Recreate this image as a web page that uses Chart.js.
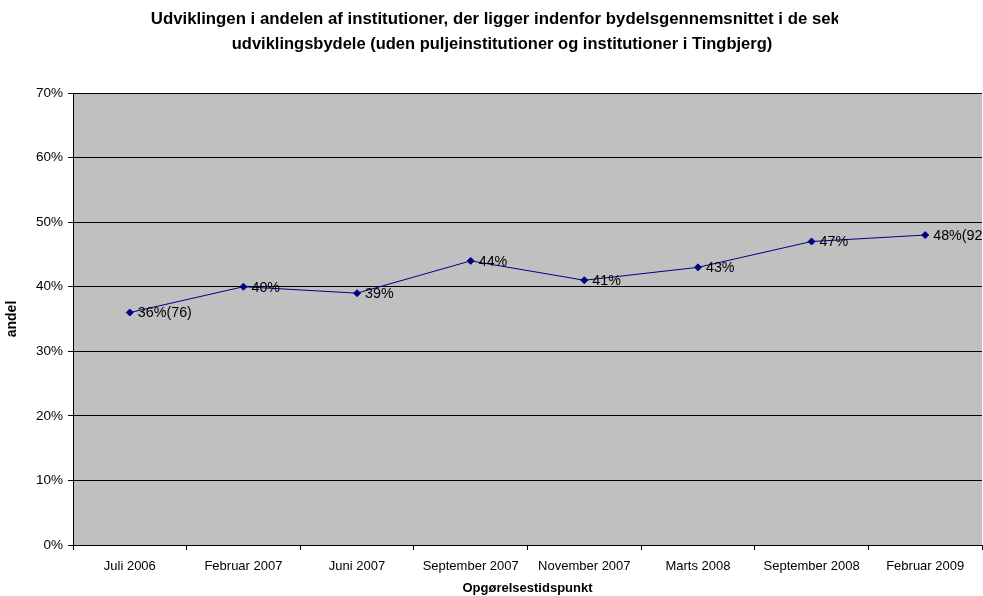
<!DOCTYPE html>
<html>
<head>
<meta charset="utf-8">
<script src="https://cdn.jsdelivr.net/npm/chart.js@4"></script>
<style>
	body { margin: 0; background: #fff; }
	#wrap { width: 983px; height: 596px; }
</style>
</head>
<body>
<div id="wrap"><canvas id="myChart" width="983" height="596"></canvas></div>
<script>
// Data
const categories = ['Juli 2006', 'Februar 2007', 'Juni 2007', 'September 2007', 'November 2007', 'Marts 2008', 'September 2008', 'Februar 2009'];
const andel = [36, 40, 39, 44, 41, 43, 47, 48];
const antal = [76, null, null, null, null, null, null, 92];
const yTicks = [0, 10, 20, 30, 40, 50, 60, 70];

const titleLines = [
	'Udviklingen i andelen af institutioner, der ligger indenfor bydelsgennemsnittet i de seks',
	'udviklingsbydele (uden puljeinstitutioner og institutioner i Tingbjerg)'
];

const FONT = 'Arial, "Liberation Sans", sans-serif';

// gray plot area + clipped title
const backdrop = {
	id: 'backdrop',
	beforeDraw(chart) {
		const { ctx, chartArea } = chart;
		ctx.save();
		ctx.fillStyle = '#C0C0C0';
		ctx.fillRect(chartArea.left, chartArea.top, chartArea.right - chartArea.left, chartArea.bottom - chartArea.top);
		ctx.restore();

		ctx.save();
		ctx.beginPath();
		ctx.rect(0, 0, 838, 60);
		ctx.clip();
		ctx.fillStyle = '#000';
		ctx.font = 'bold 16.8px ' + FONT;
		ctx.textAlign = 'center';
		ctx.textBaseline = 'middle';
		ctx.fillText(titleLines[0], 500, 19);
		ctx.font = 'bold 16.5px ' + FONT;
		ctx.fillText(titleLines[1], 502, 44);
		ctx.restore();
	}
};

// value labels right of each point
const valueLabels = {
	id: 'valueLabels',
	afterDatasetsDraw(chart) {
		const { ctx } = chart;
		const meta = chart.getDatasetMeta(0);
		ctx.save();
		ctx.fillStyle = '#000';
		ctx.font = '14.3px ' + FONT;
		ctx.textAlign = 'left';
		ctx.textBaseline = 'middle';
		meta.data.forEach((pt, i) => {
			let txt = andel[i] + '%';
			if (antal[i] != null) txt += '(' + antal[i] + ')';
			ctx.fillText(txt, pt.x + 8, pt.y + 1);
		});
		ctx.restore();
	}
};

const ctx = document.getElementById('myChart');

new Chart(ctx, {
	type: 'line',
	data: {
		labels: categories,
		datasets: [{
			label: 'andel',
			data: andel,
			borderColor: '#000080',
			backgroundColor: '#000080',
			borderWidth: 1,
			pointStyle: 'rectRot',
			pointRadius: 3.5,
			pointHoverRadius: 3.5,
			tension: 0,
			fill: false
		}]
	},
	options: {
		responsive: false,
		animation: false,
		layout: {
			autoPadding: false,
			padding: { top: 93, left: 4, right: 1, bottom: 0 }
		},
		plugins: {
			legend: { display: false },
			tooltip: { enabled: false },
			title: { display: false }
		},
		scales: {
			x: {
				offset: true,
				grid: {
					offset: true,
					drawOnChartArea: false,
					drawTicks: true,
					tickLength: 5,
					color: '#000'
				},
				border: { color: '#000', width: 1 },
				ticks: {
					color: '#000',
					font: { family: FONT, size: 13 },
					maxRotation: 0,
					autoSkip: false,
					padding: 9
				},
				title: {
					display: true,
					text: 'Opgørelsestidspunkt',
					color: '#000',
					font: { family: FONT, size: 13, weight: 'bold' },
					padding: { top: 5, bottom: 0 }
				},
				afterFit(scale) {
					scale.height = 51;
					scale.paddingLeft = 0;
					scale.paddingRight = 0;
				}
			},
			y: {
				min: 0,
				max: 70,
				afterBuildTicks(scale) {
					scale.ticks = yTicks.map(v => ({ value: v }));
				},
				grid: {
					color: '#000',
					lineWidth: 1,
					drawTicks: true,
					tickLength: 5
				},
				border: { color: '#000', width: 1 },
				ticks: {
					color: '#000',
					font: { family: FONT, size: 13.5 },
					padding: 5,
					callback: v => v + '%'
				},
				title: {
					display: true,
					text: 'andel',
					color: '#000',
					font: { family: FONT, size: 14, weight: 'bold' },
					padding: { top: 0, bottom: 8 }
				},
				afterFit(scale) { scale.width = 69; }
			}
		}
	},
	plugins: [backdrop, valueLabels]
});
</script>
</body>
</html>
